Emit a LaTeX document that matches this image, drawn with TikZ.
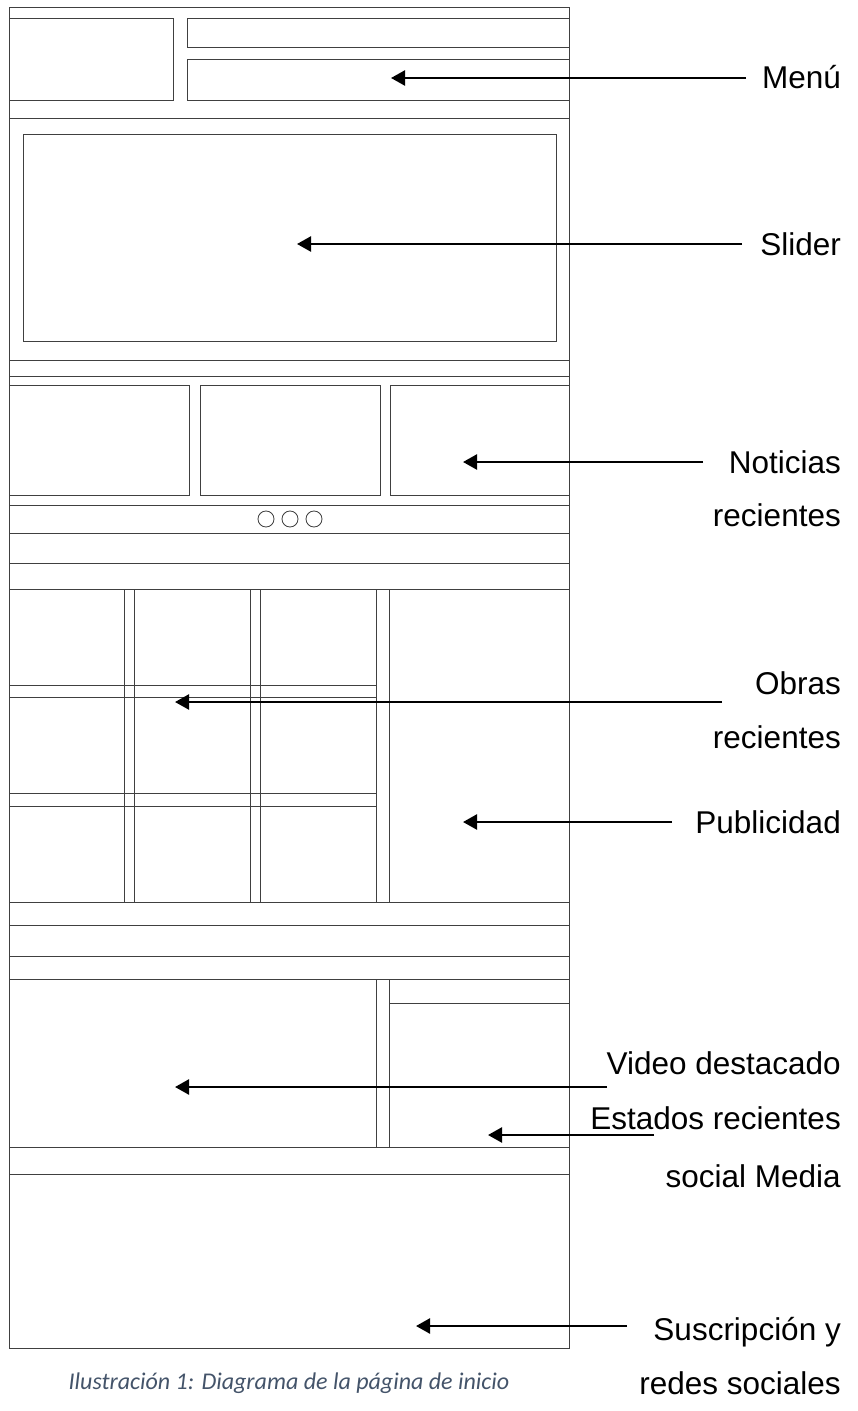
\documentclass[tikz,border=0pt]{standalone}
\usepackage{fontspec}
\setmainfont{Liberation Sans}
\newfontfamily\capfont{Carlito}
\usetikzlibrary{arrows.meta}
\definecolor{wire}{HTML}{404040}
\definecolor{capcol}{HTML}{44546A}
\begin{document}
\begin{tikzpicture}[x=1pt,y=-1pt,
  wire/.style={draw=wire, line width=0.85pt},
  arr/.style={line width=2.4pt, -{Triangle[length=14pt,width=15pt]}},
  lbl/.style={font=\fontsize{31.5}{38}\selectfont, inner sep=0pt, anchor=base east},
  captext/.style={font=\capfont\itshape\fontsize{24}{28}\selectfont, text=capcol, inner sep=0pt, anchor=base}]
\useasboundingbox (0,0) rectangle (857,1411);
\fill[white] (0,0) rectangle (857,1411);
% outer frame
\draw[wire] (9,7) rectangle (569,1348);
% header
\draw[wire] (9,18) rectangle (173.5,100);
\draw[wire] (187,18) rectangle (569,47);
\draw[wire] (187,59) rectangle (569,100);
\draw[wire] (9,118) -- (569,118);
% slider
\draw[wire] (23,134) rectangle (556,341);
% full-width separators
\foreach \y in {360,376,505,533,563,589,902,925,956,979,1147,1174}
  \draw[wire] (9,\y) -- (569,\y);
% news boxes
\draw[wire] (9,385) rectangle (189,495);
\draw[wire] (200,385) rectangle (380,495);
\draw[wire] (390,385) rectangle (569,495);
\foreach \x in {266,290,314}
  \draw[wire] (\x,519) circle[radius=8pt];
% works grid
\foreach \a/\b in {9/124,134/250,260/376}
  \draw[wire] (\a,589) rectangle (\b,902);
\foreach \a/\b in {589/685,697/793,806/902}
  \draw[wire] (9,\a) rectangle (376,\b);
\draw[wire] (389,589) -- (389,902);
% video block
\draw[wire] (376,979) -- (376,1147);
\draw[wire] (389,979) -- (389,1147);
\draw[wire] (389,1003) -- (569,1003);
% arrow coordinates
\coordinate (sMenu) at (746,78);   \coordinate (tMenu) at (391,78);
\coordinate (sSlid) at (742,244);  \coordinate (tSlid) at (297,244);
\coordinate (sNot) at (703,462);   \coordinate (tNot) at (463,462);
\coordinate (sObr) at (722,702);   \coordinate (tObr) at (175,702);
\coordinate (sPub) at (672,822);   \coordinate (tPub) at (463,822);
\coordinate (sVid) at (607,1087);  \coordinate (tVid) at (175,1087);
\coordinate (sEst) at (654,1135);  \coordinate (tEst) at (488,1135);
\coordinate (sSus) at (627,1326);  \coordinate (tSus) at (416,1326);
\draw[arr] (sMenu) -- (tMenu);
\draw[arr] (sSlid) -- (tSlid);
\draw[arr] (sNot) -- (tNot);
\draw[arr] (sObr) -- (tObr);
\draw[arr] (sPub) -- (tPub);
\draw[arr] (sVid) -- (tVid);
\draw[arr] (sEst) -- (tEst);
\draw[arr] (sSus) -- (tSus);
% labels
\node[lbl] (lMenu) at (841,88) {Menú};
\node[lbl] (lSlid) at (841,255) {Slider};
\node[lbl] (lNot1) at (841,473) {Noticias};
\node[lbl] (lNot2) at (841,526) {recientes};
\node[lbl] (lObr1) at (841,694) {Obras};
\node[lbl] (lObr2) at (841,748) {recientes};
\node[lbl] (lPub) at (841,833) {Publicidad};
\node[lbl] (lVid) at (841,1074) {Video destacado};
\node[lbl] (lEst1) at (841,1129) {Estados recientes};
\node[lbl] (lEst2) at (841,1187) {social Media};
\node[lbl] (lSus1) at (841,1340) {Suscripción y};
\node[lbl] (lSus2) at (841,1394) {redes sociales};
% caption
\node[captext] (capt) at (289,1389) {Ilustración 1: Diagrama de la página de inicio};
\end{tikzpicture}
\end{document}
